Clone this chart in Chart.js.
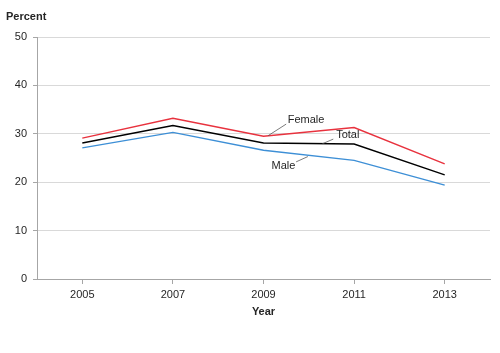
<!DOCTYPE html>
<html>
<head>
<meta charset="utf-8">
<script src="https://cdn.jsdelivr.net/npm/chart.js@4"></script>
<style>
  html, body { margin: 0; padding: 0; background: #fff; }
  #wrap { width: 500px; height: 353px; }
</style>
</head>
<body>
<div id="wrap"><canvas id="chart" width="500" height="353"></canvas></div>
<script>
const years = ['2005', '2007', '2009', '2011', '2013'];
const female = [29.1, 33.2, 29.5, 31.3, 23.8];
const total = [28.1, 31.7, 28.1, 27.9, 21.5];
const male = [27.1, 30.3, 26.6, 24.5, 19.4];
const yTicks = [0, 10, 20, 30, 40, 50];

const FONT = '"Liberation Sans", Arial, sans-serif';
const TEXT = '#262626';

// series labels with leader lines, placed in data units (category index, percent)
const seriesLabels = [
    { text: 'Female', at: [2.47, 32.9], from: [2.25, 32.0], to: [2.05, 29.6] },
    { text: 'Total', at: [2.93, 29.8], from: [2.77, 28.9], to: [2.65, 27.95] },
    { text: 'Male', at: [2.22, 23.3], from: [2.36, 24.2], to: [2.49, 25.3] }
];

const annotate = {
    id: 'annotate',
    afterDatasetsDraw(chart) {
        const { ctx, scales: { x, y } } = chart;
        ctx.save();
        ctx.font = '11px ' + FONT;
        ctx.fillStyle = TEXT;
        ctx.textAlign = 'center';
        ctx.textBaseline = 'middle';
        ctx.strokeStyle = '#595959';
        ctx.lineWidth = 0.8;
        seriesLabels.forEach(l => {
            ctx.fillText(l.text, x.getPixelForValue(l.at[0]), y.getPixelForValue(l.at[1]));
            ctx.beginPath();
            ctx.moveTo(x.getPixelForValue(l.from[0]), y.getPixelForValue(l.from[1]));
            ctx.lineTo(x.getPixelForValue(l.to[0]), y.getPixelForValue(l.to[1]));
            ctx.stroke();
        });
        // y axis caption
        ctx.font = 'bold 11px ' + FONT;
        ctx.textAlign = 'left';
        ctx.fillText('Percent', 6, 17);
        ctx.restore();
    }
};

new Chart(document.getElementById('chart'), {
    type: 'line',
    data: {
        labels: years,
        datasets: [
            { label: 'Female', data: female, borderColor: '#e8323e' },
            { label: 'Total', data: total, borderColor: '#000000' },
            { label: 'Male', data: male, borderColor: '#3d8fd6' }
        ].map(d => ({ ...d, borderWidth: 1.4, pointRadius: 0, tension: 0, fill: false }))
    },
    options: {
        responsive: false,
        animation: false,
        layout: { padding: { top: 37, right: 10, left: 0, bottom: 30 } },
        plugins: { legend: { display: false }, tooltip: { enabled: false } },
        scales: {
            x: {
                offset: true,
                grid: { drawOnChartArea: false, drawTicks: true, tickLength: 5, offset: false, color: '#a6a6a6' },
                border: { color: '#a6a6a6' },
                ticks: { color: TEXT, font: { family: FONT, size: 11 }, padding: 4, maxRotation: 0 },
                title: { display: true, text: 'Year', color: TEXT, font: { family: FONT, size: 11, weight: 'bold' }, padding: { top: 6, bottom: 4 } },
                afterFit(scale) { scale.height = 44; }
            },
            y: {
                min: 0,
                max: 50,
                afterBuildTicks(scale) { scale.ticks = yTicks.map(v => ({ value: v })); },
                grid: { color: '#d9d9d9', tickColor: '#a6a6a6', tickLength: 4 },
                border: { color: '#a6a6a6' },
                ticks: { color: TEXT, font: { family: FONT, size: 11 }, padding: 6 },
                afterFit(scale) { scale.width = 37; }
            }
        }
    },
    plugins: [annotate]
});
</script>
</body>
</html>
